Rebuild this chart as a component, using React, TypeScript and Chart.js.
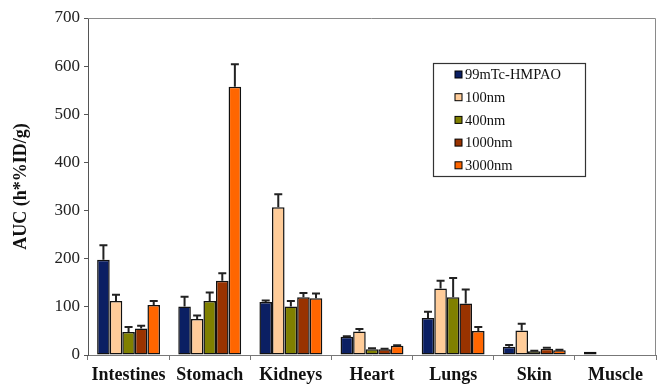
import React, { useEffect, useRef } from "react";
import { Chart, registerables } from "chart.js";

Chart.register(...registerables);

const categories = ["Intestines", "Stomach", "Kidneys", "Heart", "Lungs", "Skin", "Muscle"];
const seriesLabels = ["99mTc-HMPAO", "100nm", "400nm", "1000nm", "3000nm"];
const seriesColors = ["#0b1f63", "#ffcc99", "#808000", "#993300", "#ff6600"];

const hmpao = [198, 101, 110, 38, 77, 17, 7];
const nm100 = [112, 75, 307, 49, 138, 51, null];
const nm400 = [48, 112, 101, 12, 120, 8, null];
const nm1000 = [55, 154, 120, 12, 107, 13, null];
const nm3000 = [104, 557, 118, 19, 50, 10, null];

const hmpaoErr = [30, 20, 3, 1, 13, 4, 0];
const nm100Err = [13, 7, 27, 5, 16, 14, 0];
const nm400Err = [10, 18, 11, 2, 40, 1, 0];
const nm1000Err = [6, 16, 9, 1, 29, 2, 0];
const nm3000Err = [8, 47, 10, 1, 8, 1, 0];

const yTicks = [0, 100, 200, 300, 400, 500, 600, 700];
const yTitle = "AUC (h*%ID/g)";

const seriesValues = [hmpao, nm100, nm400, nm1000, nm3000];
const seriesErrors = [hmpaoErr, nm100Err, nm400Err, nm1000Err, nm3000Err];

const errorBarPlugin = {
  id: "errorBars",
  afterDatasetsDraw(chart: any) {
    const ctx = chart.ctx;
    const y = chart.scales.y;
    ctx.save();
    ctx.strokeStyle = "#222";
    ctx.lineWidth = 2;
    chart.data.datasets.forEach((ds: any, di: number) => {
      const meta = chart.getDatasetMeta(di);
      meta.data.forEach((bar: any, i: number) => {
        const v = ds.data[i];
        const e = seriesErrors[di][i];
        if (v == null || !e) return;
        const x = bar.x;
        const top = y.getPixelForValue(v + e);
        const base = y.getPixelForValue(v);
        ctx.beginPath();
        ctx.moveTo(x, base);
        ctx.lineTo(x, top);
        ctx.moveTo(x - 4, top);
        ctx.lineTo(x + 4, top);
        ctx.stroke();
      });
    });
    ctx.restore();
  },
};

const framePlugin = {
  id: "frameAndLegend",
  afterDraw(chart: any) {
    const ctx = chart.ctx;
    const a = chart.chartArea;
    ctx.save();
    ctx.strokeStyle = "#8a8a8a";
    ctx.lineWidth = 1;
    ctx.beginPath();
    ctx.moveTo(a.left, a.top + 0.5);
    ctx.lineTo(a.right - 0.5, a.top + 0.5);
    ctx.lineTo(a.right - 0.5, a.bottom);
    ctx.stroke();

    // legend box
    const bx = 433, by = 63, bw = 152, bh = 113;
    ctx.fillStyle = "#fff";
    ctx.fillRect(bx, by, bw, bh);
    ctx.strokeStyle = "#333";
    ctx.lineWidth = 1.2;
    ctx.strokeRect(bx + 0.5, by + 0.5, bw, bh);
    ctx.font = "14.5px 'Liberation Serif', 'Times New Roman', serif";
    ctx.textBaseline = "middle";
    ctx.textAlign = "left";
    chart.data.datasets.forEach((ds: any, i: number) => {
      const yy = 74.5 + i * 22.7;
      ctx.fillStyle = ds.backgroundColor;
      ctx.fillRect(455, yy - 3.5, 7, 7);
      ctx.strokeStyle = "#000";
      ctx.lineWidth = 1;
      ctx.strokeRect(455, yy - 3.5, 7, 7);
      ctx.fillStyle = "#111";
      ctx.fillText(ds.label, 465, yy + 1);
    });
    ctx.restore();
  },
};

export default function App() {
  const ref = useRef<HTMLCanvasElement>(null);
  useEffect(() => {
    document.body.style.margin = "0";
    const chart = new Chart(ref.current as HTMLCanvasElement, {
      type: "bar",
      data: {
        labels: categories,
        datasets: seriesLabels.map((label, i) => ({
          label,
          data: seriesValues[i] as any,
          backgroundColor: seriesColors[i],
          borderColor: "#111",
          borderWidth: 1.5,
          borderSkipped: false,
          categoryPercentage: 0.775,
          barPercentage: 1.0,
        })),
      },
      options: {
        animation: false,
        responsive: false,
        maintainAspectRatio: false,
        layout: { padding: { top: 18, right: 2, left: 0, bottom: 0 } },
        plugins: { legend: { display: false }, tooltip: { enabled: false } },
        scales: {
          x: {
            grid: {
              display: true,
              drawOnChartArea: false,
              offset: true,
              tickLength: 5,
              color: "#777",
            },
            border: { color: "#777", width: 1 },
            ticks: {
              color: "#111",
              font: { family: "'Liberation Serif', serif", size: 18, weight: "bold" },
              padding: 5,
              maxRotation: 0,
            },
            afterFit(scale: any) {
              scale.height = 31;
            },
          },
          y: {
            min: 0,
            max: 700,
            afterBuildTicks(scale: any) {
              scale.ticks = yTicks.map((v) => ({ value: v }));
            },
            grid: {
              display: true,
              drawOnChartArea: false,
              tickLength: 4,
              color: "#555",
            },
            border: { color: "#555", width: 1 },
            ticks: {
              color: "#222",
              font: { family: "'Liberation Serif', serif", size: 17 },
              padding: 4,
            },
            title: {
              display: true,
              text: yTitle,
              color: "#111",
              font: { family: "'Liberation Serif', serif", size: 18, weight: "bold" },
              padding: { top: 11, bottom: 0 },
            },
            afterFit(scale: any) {
              scale.width = 88;
            },
          },
        },
      },
      plugins: [errorBarPlugin, framePlugin],
    });
    return () => chart.destroy();
  }, []);
  return (
    <div style={{ width: 658, height: 386 }}>
      <canvas ref={ref} width={658} height={386} style={{ width: 658, height: 386 }} />
    </div>
  );
}
